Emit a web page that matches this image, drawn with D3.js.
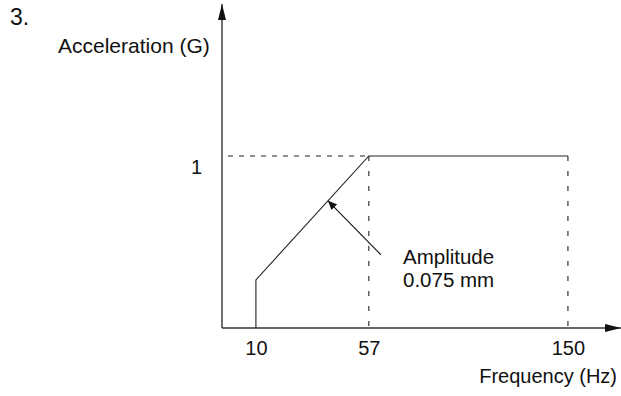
<!DOCTYPE html>
<html lang="en">
<head>
<meta charset="utf-8">
<title>Vibration profile</title>
<script src="https://d3js.org/d3.v7.min.js"></script>
<style>
  body { margin: 0; background: #fff; }
  svg text { font-family: "Liberation Sans", Arial, Helvetica, sans-serif; fill: #111; }
  .curve { fill: none; stroke: #222; stroke-width: 1.1; }
  .guide { fill: none; stroke: #222; stroke-width: 1.1; stroke-dasharray: 5,6; }
  .guide.v { stroke-dasharray: 5,10; }
  .axisline { stroke: #333; stroke-width: 1.4; }
</style>
</head>
<body>
<script>
// data
var freqTicks = [10, 57, 150];
var accelTicks = [1];
var curveFreq = [10, 10, 57, 150];
var curveAccel = [0, 0.28, 1, 1];
var noteAt = 40;            // frequency where the amplitude note points
var noteText = ["Amplitude", "0.075 mm"];

var width = 621, height = 396;
var margin = {top: 4, right: 0, bottom: 68, left: 222};

var svg = d3.select("body").append("svg")
    .attr("width", width)
    .attr("height", height);

var defs = svg.append("defs");
defs.append("marker")
    .attr("id", "arrow")
    .attr("viewBox", "0 0 10 10")
    .attr("refX", 10).attr("refY", 5)
    .attr("markerWidth", 9).attr("markerHeight", 8)
    .attr("preserveAspectRatio", "none")
    .attr("markerUnits", "userSpaceOnUse")
    .attr("orient", "auto")
    .append("path").attr("d", "M0,0L10,5L0,10z").attr("fill", "#111");
defs.append("marker")
    .attr("id", "bigarrow")
    .attr("viewBox", "0 0 10 10")
    .attr("refX", 10).attr("refY", 5)
    .attr("markerWidth", 16).attr("markerHeight", 8)
    .attr("preserveAspectRatio", "none")
    .attr("markerUnits", "userSpaceOnUse")
    .attr("orient", "auto")
    .append("path").attr("d", "M0,0L10,5L0,10z").attr("fill", "#111");

var x0 = margin.left, x1 = width - margin.right;
var yBase = height - margin.bottom;
var L = x1 - x0;

// schematic (not to scale) frequency axis
var x = d3.scaleLinear()
    .domain(freqTicks)
    .range([x0 + L * 0.085, x0 + L * 0.368, x0 + L * 0.867]);

var y = d3.scaleLinear()
    .domain([0, 1])
    .range([yBase, 156]);

// axes lines with arrows
svg.append("line").attr("class", "axisline")
    .attr("x1", x0).attr("y1", yBase).attr("x2", x0).attr("y2", margin.top)
    .attr("marker-end", "url(#bigarrow)");
svg.append("line").attr("class", "axisline")
    .attr("x1", x0).attr("y1", yBase).attr("x2", x1).attr("y2", yBase)
    .attr("marker-end", "url(#bigarrow)");

// tick labels
var xAxis = svg.append("g")
    .attr("transform", "translate(0," + yBase + ")")
    .call(d3.axisBottom(x).tickValues(freqTicks).tickSize(0).tickPadding(13));
xAxis.select(".domain").remove();
xAxis.selectAll("text").attr("font-size", 20).style("font-family", null);

var yAxis = svg.append("g")
    .attr("transform", "translate(" + x0 + ",0)")
    .call(d3.axisLeft(y).tickValues(accelTicks).tickFormat(d3.format("d")).tickSize(0).tickPadding(20));
yAxis.select(".domain").remove();
yAxis.selectAll("text").attr("font-size", 20).attr("dy", "0.85em").style("font-family", null);

// dashed guides
var maxAccel = d3.max(curveAccel);
svg.append("line").attr("class", "guide")
    .attr("x1", x0 + 6).attr("x2", x(57)).attr("y1", y(maxAccel)).attr("y2", y(maxAccel));
freqTicks.slice(1).forEach(function(f) {
  svg.append("line").attr("class", "guide v")
      .attr("x1", x(f)).attr("x2", x(f)).attr("y1", y(maxAccel)).attr("y2", yBase);
});

// curve
var line = d3.line()
    .x(function(d) { return x(d[0]); })
    .y(function(d) { return y(d[1]); });
svg.append("path").attr("class", "curve")
    .attr("d", line(d3.zip(curveFreq, curveAccel)));

// annotation arrow
var noteAccel = curveAccel[1] + (curveAccel[2] - curveAccel[1]) * (noteAt - 10) / (57 - 10);
svg.append("line")
    .attr("stroke", "#111").attr("stroke-width", 1.1)
    .attr("x1", x(noteAt) + 53).attr("y1", y(noteAccel) + 54)
    .attr("x2", x(noteAt)).attr("y2", y(noteAccel))
    .attr("marker-end", "url(#arrow)");

svg.append("text").attr("x", 403).attr("y", 264).attr("font-size", 20.5).text(noteText[0]);
svg.append("text").attr("x", 403).attr("y", 287).attr("font-size", 20.5).text(noteText[1]);

// titles
svg.append("text").attr("x", 10).attr("y", 25).attr("font-size", 23).text("3.");
svg.append("text").attr("x", 58).attr("y", 53).attr("font-size", 21).text("Acceleration (G)");
svg.append("text").attr("x", 617).attr("y", 383).attr("font-size", 20)
    .attr("text-anchor", "end").text("Frequency (Hz)");
</script>
</body>
</html>
